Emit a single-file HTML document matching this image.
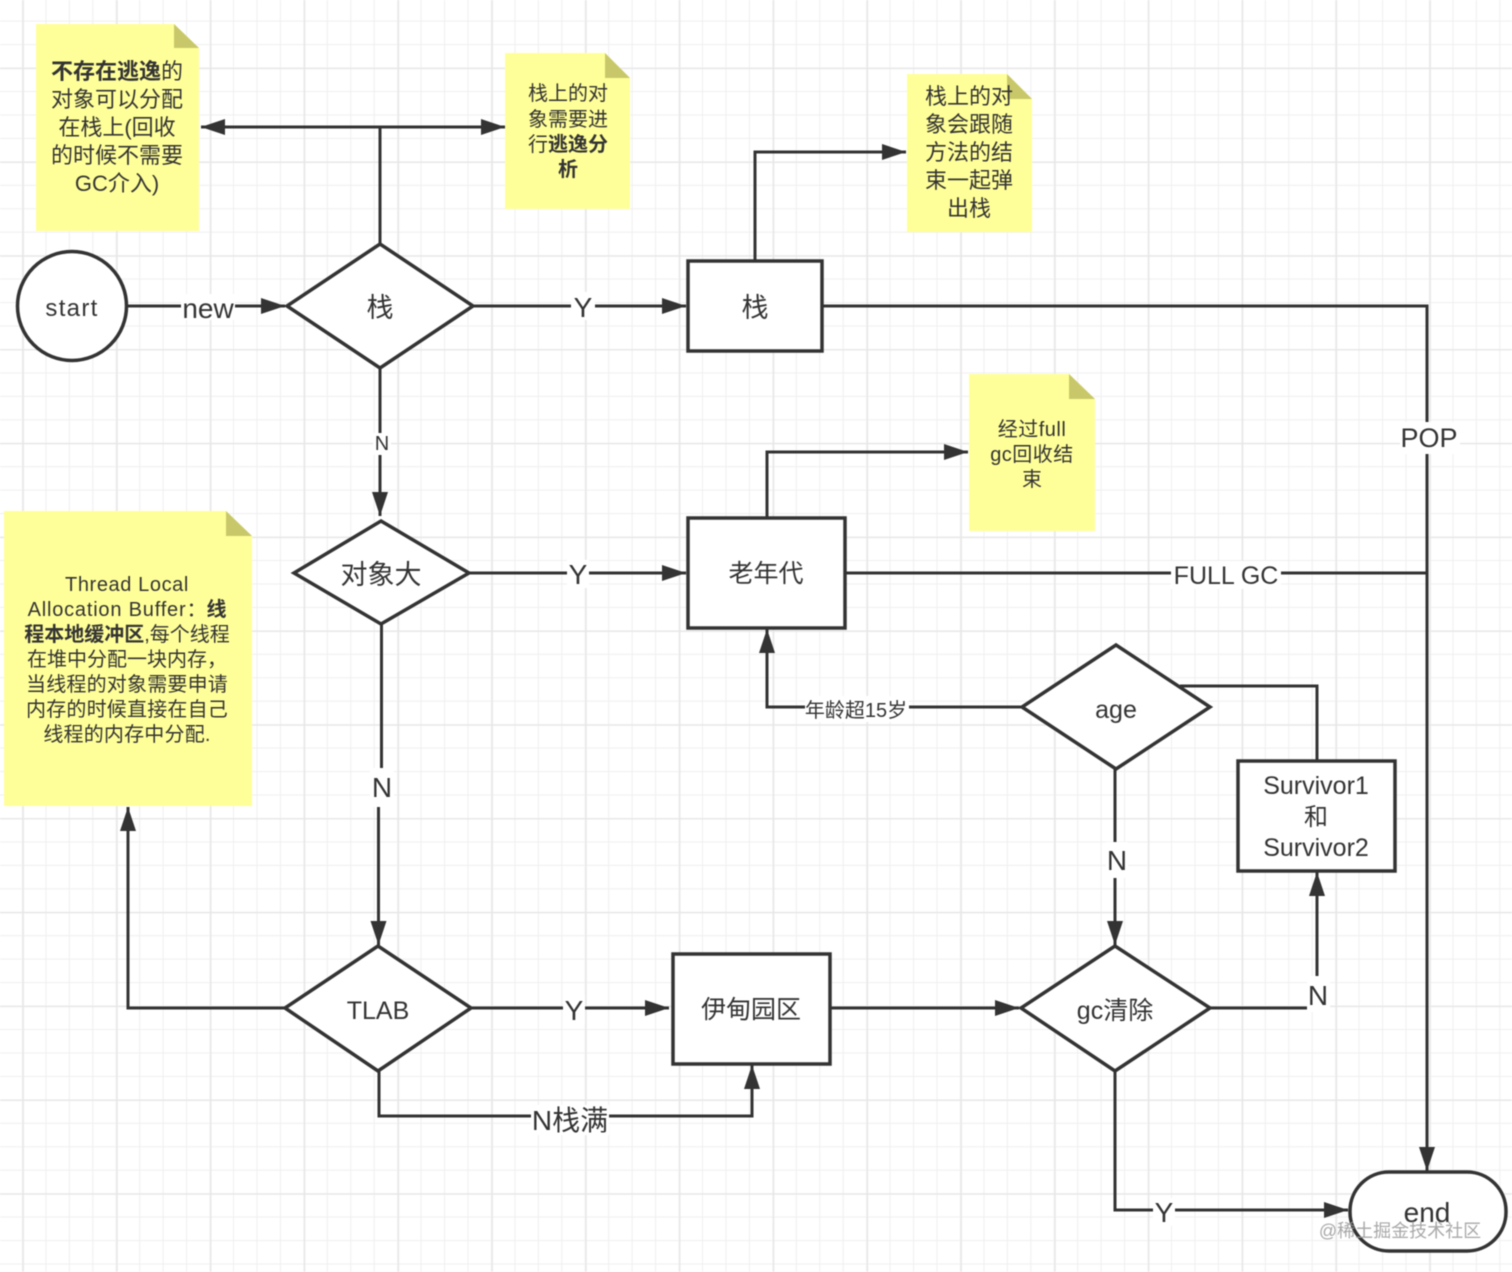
<!DOCTYPE html>
<html><head><meta charset="utf-8"><style>
html,body{margin:0;padding:0;background:#fff}
svg{display:block;filter:blur(.5px)}
text{font-family:"Liberation Sans","Noto Sans CJK SC",sans-serif;fill:#333;text-anchor:middle}
.b{font-weight:700}
.l{fill:none;stroke:#333;stroke-width:3}
.s{fill:#fff;stroke:#333;stroke-width:3.5}
.n{fill:#ffff99}
.c{fill:#c8c86a}
.w{fill:#fff;stroke:none}
</style></head><body>
<svg width="1512" height="1272" viewBox="0 0 1512 1272" xmlns="http://www.w3.org/2000/svg">
<defs>
<pattern id="g" width="23.45" height="23.45" patternUnits="userSpaceOnUse" x="-0.5" y="-1.8">
<path d="M23.45 0V23.45M0 23.45H23.45" stroke="#efefef" stroke-width="2" fill="none"/>
</pattern>
<pattern id="G" width="93.8" height="93.8" patternUnits="userSpaceOnUse" x="22.6" y="67.8">
<path d="M0 0V93.8M0 0H93.8" stroke="#e6e6e6" stroke-width="2.5" fill="none"/>
</pattern>
<marker id="a" markerUnits="userSpaceOnUse" markerWidth="26" markerHeight="18" refX="24" refY="9" orient="auto"><path d="M0 1L24 9L0 17Z" fill="#333"/></marker>
</defs>
<rect width="1512" height="1272" fill="#fff"/>
<rect width="1512" height="1272" fill="url(#g)"/>
<rect width="1512" height="1272" fill="url(#G)"/>

<!-- sticky notes -->
<path class="n" d="M36 24H174L199 48V231H36Z"/><path class="c" d="M174 24L199 48H174Z"/>
<path class="n" d="M505 53H605L630 78V209H505Z"/><path class="c" d="M605 53L630 78H605Z"/>
<path class="n" d="M907 74H1007L1032 99V232H907Z"/><path class="c" d="M1007 74L1032 99H1007Z"/>
<path class="n" d="M969 374H1069L1095 399V531H969Z"/><path class="c" d="M1069 374L1095 399H1069Z"/>
<path class="n" d="M4 511H226L252 536V806H4Z"/><path class="c" d="M226 511L252 536H226Z"/>

<!-- connectors -->
<g class="l">
<path d="M128 306H285" marker-end="url(#a)"/>
<path d="M380 244V127H201" marker-end="url(#a)"/>
<path d="M380 127H505" marker-end="url(#a)"/>
<path d="M473 306H686" marker-end="url(#a)"/>
<path d="M755 261V152H906" marker-end="url(#a)"/>
<path d="M822 306H1427V1171" marker-end="url(#a)"/>
<path d="M380 368V516" marker-end="url(#a)"/>
<path d="M469 573H686" marker-end="url(#a)"/>
<path d="M767 517V452H968" marker-end="url(#a)"/>
<path d="M845 573H1427"/>
<path d="M381.500 624V788H378.500V945" marker-end="url(#a)"/>
<path d="M1022 707H767V629" marker-end="url(#a)"/>
<path d="M1180 686H1317V760"/>
<path d="M1115 769V945" marker-end="url(#a)"/>
<path d="M285 1008H128V807" marker-end="url(#a)"/>
<path d="M471 1008H669" marker-end="url(#a)"/>
<path d="M379 1070V1116H752V1065" marker-end="url(#a)"/>
<path d="M830 1008H1019" marker-end="url(#a)"/>
<path d="M1210 1008H1317V872" marker-end="url(#a)"/>
<path d="M1115 1070V1210H1348" marker-end="url(#a)"/>
</g>

<!-- shapes -->
<circle class="s" cx="72" cy="306" r="54.5"/>
<path class="s" d="M380 244L473 306L380 368L287 306Z"/>
<rect class="s" x="688" y="261" width="134" height="90"/>
<path class="s" d="M381 521L469 573L381 624L294 573Z"/>
<rect class="s" x="688" y="518" width="157" height="110"/>
<path class="s" d="M1116 645L1210 707L1116 769L1022 707Z"/>
<rect class="s" x="1238" y="761" width="157" height="110"/>
<path class="s" d="M378 946L471 1008L378 1071L285 1008Z"/>
<rect class="s" x="673" y="954" width="157" height="110"/>
<path class="s" d="M1115 946L1210 1008L1115 1071L1021 1008Z"/>
<rect class="s" x="1350" y="1172" width="156" height="79" rx="39" ry="39"/>

<!-- connector label backgrounds -->
<rect class="w" x="181" y="294" width="54" height="26"/>
<rect class="w" x="571" y="292" width="24" height="28"/>
<rect class="w" x="1400" y="422" width="60" height="32"/>
<rect class="w" x="373" y="433" width="18" height="22"/>
<rect class="w" x="567" y="560" width="22" height="28"/>
<rect class="w" x="1171" y="561" width="110" height="28"/>
<rect class="w" x="805" y="696" width="104" height="26"/>
<rect class="w" x="370" y="768" width="24" height="39"/>
<rect class="w" x="1106" y="842" width="22" height="36"/>
<rect class="w" x="563" y="995" width="22" height="28"/>
<rect class="w" x="1307" y="976" width="23" height="36"/>
<rect class="w" x="531" y="1105" width="78" height="30"/>
<rect class="w" x="1153" y="1198" width="22" height="28"/>

<!-- node text -->
<text x="72" y="316" font-size="24" letter-spacing="1.300">start</text>
<text x="380" y="317" font-size="27">栈</text>
<text x="755" y="317" font-size="27">栈</text>
<text x="381" y="584" font-size="27">对象大</text>
<text x="766" y="582" font-size="25">老年代</text>
<text x="1116" y="718" font-size="25">age</text>
<text x="1316" y="794" font-size="25">Survivor1</text>
<text x="1316" y="825" font-size="24">和</text>
<text x="1316" y="856" font-size="25">Survivor2</text>
<text x="378" y="1019" font-size="25">TLAB</text>
<text x="751" y="1018" font-size="25">伊甸园区</text>
<text x="1115" y="1019" font-size="25">gc清除</text>
<text x="1427" y="1222" font-size="28">end</text>

<!-- connector labels -->
<text x="208" y="318" font-size="28">new</text>
<text x="583" y="317" font-size="28">Y</text>
<text x="1429" y="447" font-size="27">POP</text>
<text x="382" y="450" font-size="20">N</text>
<text x="578" y="584" font-size="28">Y</text>
<text x="1226" y="584" font-size="25">FULL GC</text>
<text x="856" y="717" font-size="20">年龄超15岁</text>
<text x="382" y="797" font-size="28">N</text>
<text x="1117" y="870" font-size="28">N</text>
<text x="574" y="1020" font-size="28">Y</text>
<text x="1318" y="1005" font-size="28">N</text>
<text x="570" y="1130" font-size="28">N栈满</text>
<text x="1164" y="1222" font-size="28">Y</text>

<!-- note text -->
<g font-size="22">
<text x="117" y="79"><tspan class="b">不存在逃逸</tspan>的</text>
<text x="117" y="107">对象可以分配</text>
<text x="117" y="135">在栈上(回收</text>
<text x="117" y="163">的时候不需要</text>
<text x="117" y="191">GC介入)</text>
</g>
<g font-size="20">
<text x="568" y="100">栈上的对</text>
<text x="568" y="126">象需要进</text>
<text x="568" y="151">行<tspan class="b">逃逸分</tspan></text>
<text x="568" y="176" class="b">析</text>
</g>
<g font-size="22">
<text x="969" y="104">栈上的对</text>
<text x="969" y="132">象会跟随</text>
<text x="969" y="160">方法的结</text>
<text x="969" y="188">束一起弹</text>
<text x="969" y="216">出栈</text>
</g>
<g font-size="20">
<text x="1032" y="436" letter-spacing=".5">经过full</text>
<text x="1032" y="461" letter-spacing=".5">gc回收结</text>
<text x="1032" y="486">束</text>
</g>
<g font-size="20">
<text x="127" y="591" letter-spacing=".6">Thread Local</text>
<text x="127" y="616"><tspan letter-spacing=".8">Allocation Buffer</tspan>：<tspan class="b">线</tspan></text>
<text x="127" y="641"><tspan class="b">程本地缓冲区</tspan>,每个线程</text>
<text x="127" y="666">在堆中分配一块内存，</text>
<text x="127" y="691" letter-spacing=".2">当线程的对象需要申请</text>
<text x="127" y="716" letter-spacing=".2">内存的时候直接在自己</text>
<text x="127" y="741" letter-spacing=".2">线程的内存中分配.</text>
</g>

<text x="1400" y="1237" font-size="18" style="fill:#999;fill-opacity:.85">@稀土掘金技术社区</text>
</svg>
</body></html>
